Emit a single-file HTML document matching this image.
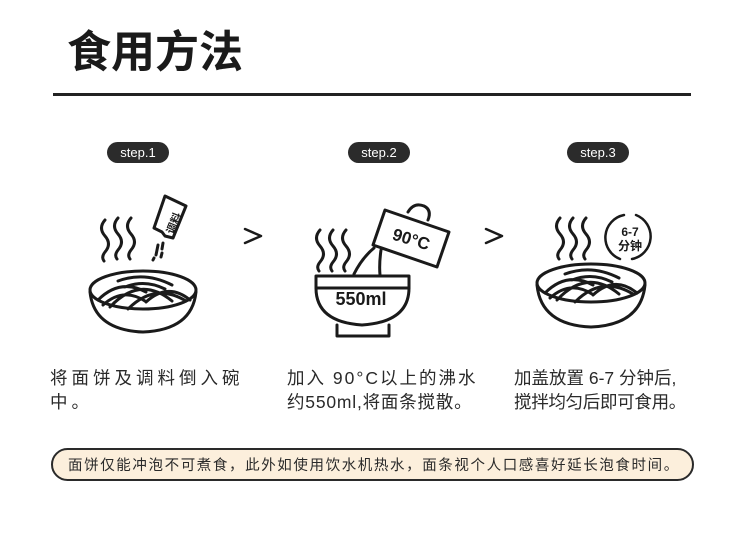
<!DOCTYPE html>
<html><head><meta charset="utf-8"><style>
body{margin:0;width:750px;height:545px;background:#fff;overflow:hidden;font-family:"Liberation Sans","Noto Sans CJK SC",sans-serif;}
</style></head><body>
<svg width="750" height="545" viewBox="0 0 750 545" xmlns="http://www.w3.org/2000/svg" font-family="Liberation Sans, Noto Sans CJK SC, sans-serif">
<text x="67" y="67" font-size="44" font-weight="bold" fill="#1a1a1a" font-family="Noto Sans CJK SC, sans-serif">食用方法</text>
<rect x="53" y="93" width="638" height="3" fill="#222"/>
<g fill="#2b2b2b">
<rect x="107" y="142" width="62" height="21" rx="10.5"/>
<rect x="348" y="142" width="62" height="21" rx="10.5"/>
<rect x="567" y="142" width="62" height="21" rx="10.5"/>
</g>
<g fill="#fff" font-size="13" text-anchor="middle">
<text x="138" y="157">step.1</text><text x="379" y="157">step.2</text><text x="598" y="157">step.3</text>
</g>
<g fill="none" stroke="#1a1a1a" stroke-width="3" stroke-linecap="round" stroke-linejoin="round">
<path d="M105 220 q-7 8 0 16 q7 8 0 16 q-4 5 -1 9"/>
<path d="M118 218 q-7 8 0 16 q7 8 0 16 q-4 5 -1 9"/>
<path d="M131 218 q-7 8 0 16 q7 8 0 16 q-4 5 -1 9"/>
<path d="M165 196 l21 10 l-13 32 l-8 -2 l-3 -4 l-8 -4 z"/>
<path d="M158 245 l-2 10 M163 243 l-1 6 M162 253 l-1 4 M154 258 l-1 2"/>
<ellipse cx="143" cy="290" rx="53" ry="19"/>
<path d="M90 292 q4 38 53 40 q49 -2 53 -40"/>
<path d="M98 300 q22 -22 48 -8 M103 305 q20 -18 42 -4 M110 307 q30 -32 62 -6 M128 309 q27 -27 58 -8 M146 302 q22 -20 44 -2 M118 281 q27 -10 54 4 M125 287 q20 -8 40 2"/>
<path d="M245 229 l16 7 l-16 7" stroke-width="2.5"/>
<path d="M320 230 q-7 8 0 16 q7 8 0 16 q-4 5 -1 9"/>
<path d="M333 230 q-7 8 0 16 q7 8 0 16 q-4 5 -1 9"/>
<path d="M346 230 q-7 8 0 16 q7 8 0 16 q-4 5 -1 9"/>
<path d="M316 276 h93 v12 h-93 z"/>
<path d="M316 288 q0 34 46 37 q47 -3 47 -37"/>
<path d="M337 325 v11 h52 v-11"/>
<path d="M385 210 l64 22 l-12 35 l-64 -22 z"/>
<path d="M408 212 q6 -10 16 -6 q8 4 4 14"/>
<path d="M374 248 q-12 10 -20 26 M381 250 q-2 14 -1 25"/>
<path d="M486 229 l16 7 l-16 7" stroke-width="2.5"/>
<path d="M560 218 q-7 8 0 16 q7 8 0 16 q-4 5 -1 9"/>
<path d="M573 218 q-7 8 0 16 q7 8 0 16 q-4 5 -1 9"/>
<path d="M586 218 q-7 8 0 16 q7 8 0 16 q-4 5 -1 9"/>
<path d="M624 215 a23 23 0 0 0 -4 44 M636 215 a23 23 0 0 1 -4 44" stroke-width="2.5"/>
<ellipse cx="591" cy="283" rx="54" ry="19"/>
<path d="M537 285 q4 40 54 42 q50 -2 54 -42"/>
<path d="M545 293 q22 -22 48 -8 M550 298 q20 -18 42 -4 M557 300 q30 -32 62 -6 M575 302 q27 -27 58 -8 M593 295 q22 -20 44 -2 M565 274 q27 -10 54 4 M572 280 q20 -8 40 2"/>
</g>
<text x="171" y="229" font-size="11" font-weight="bold" transform="rotate(-68 171 222)" text-anchor="middle" font-family="Noto Sans CJK SC, sans-serif" fill="#1a1a1a">调料</text>
<text x="411" y="245" font-size="17" font-weight="bold" transform="rotate(17 411 240)" text-anchor="middle" fill="#1a1a1a">90°C</text>
<text x="361" y="305" font-size="18" font-weight="bold" text-anchor="middle" fill="#1a1a1a">550ml</text>
<text x="630" y="236" font-size="12" font-weight="bold" text-anchor="middle" fill="#1a1a1a">6-7</text>
<text x="630" y="250" font-size="12" font-weight="bold" text-anchor="middle" fill="#1a1a1a" font-family="Noto Sans CJK SC, sans-serif">分钟</text>
<g font-size="17.5" fill="#2a2a2a" font-family="Liberation Sans, Noto Sans CJK SC, sans-serif">
<text x="50" y="384" letter-spacing="4">将面饼及调料倒入碗</text>
<text x="50" y="408" letter-spacing="4">中。</text>
<text x="287" y="384" letter-spacing="2">加入 90°C以上的沸水</text>
<text x="287" y="408" letter-spacing="0.8">约550ml,将面条搅散。</text>
<text x="514" y="384" letter-spacing="0">加盖放置 6-7 分钟后,</text>
<text x="514" y="408" letter-spacing="-0.3">搅拌均匀后即可食用。</text>
</g>
<rect x="52" y="449" width="641" height="31" rx="15.5" fill="#fcefdc" stroke="#2a2a2a" stroke-width="2"/>
<text x="68" y="470" font-size="14.5" fill="#2a2a2a" letter-spacing="1.6">面饼仅能冲泡不可煮食，此外如使用饮水机热水，面条视个人口感喜好延长泡食时间。</text>
</svg>
</body></html>
